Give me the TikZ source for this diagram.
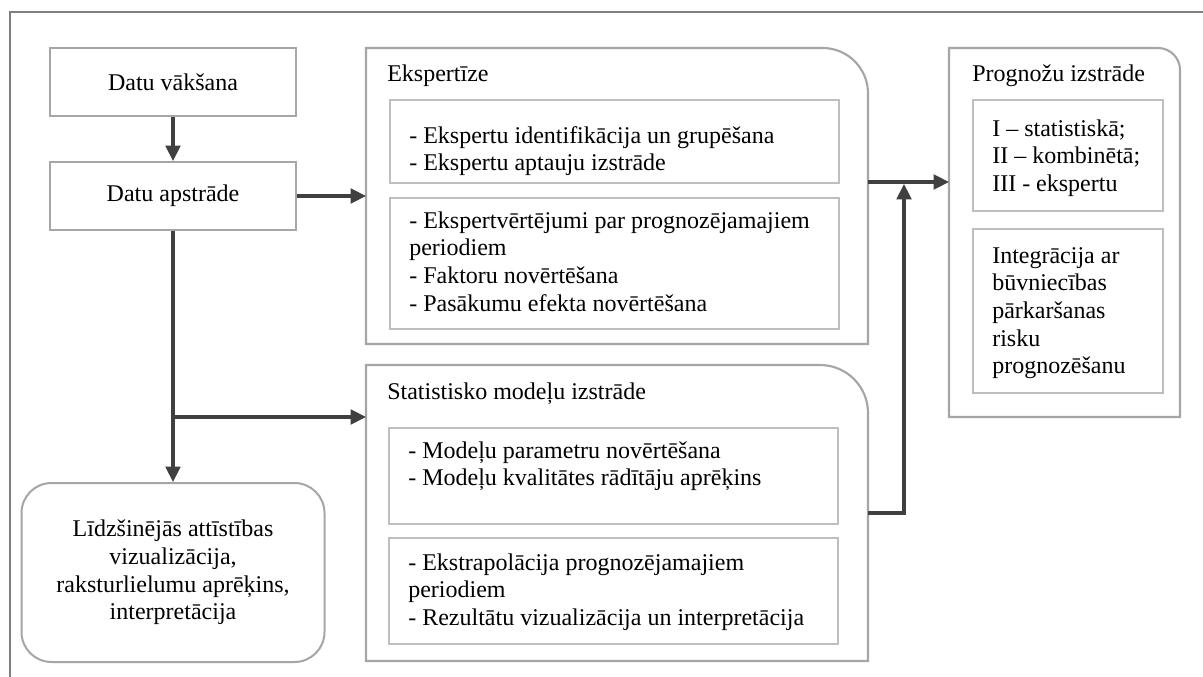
\documentclass[tikz,border=0pt]{standalone}
\usepackage{fontspec}
\setmainfont{Liberation Serif}
\usetikzlibrary{arrows.meta}
\definecolor{framegray}{RGB}{128,128,128}
\definecolor{boxgray}{RGB}{166,166,166}
\definecolor{innergray}{RGB}{190,190,190}
\definecolor{arrowgray}{RGB}{64,64,64}
\newcommand{\fstrut}{\rule{0pt}{14pt}}
\begin{document}
\begin{tikzpicture}[x=0.75pt,y=-0.75pt,
  every node/.style={font=\fontsize{18pt}{20.7pt}\selectfont},
  plainbox/.style={draw=boxgray,line width=1.5pt,rectangle,inner sep=0pt,align=center},
  innerbox/.style={draw=innergray,line width=1.2pt,rectangle,inner sep=0pt,anchor=north west},
  container/.style={draw=boxgray,line width=1.6pt},
  txt/.style={anchor=north west,inner sep=0pt,align=left},
  ttl/.style={anchor=base west,inner sep=0pt},
  conn/.style={draw=arrowgray,line width=2.3pt},
  arr/.style={conn,-{Triangle[length=11.5pt,width=11pt]}}]
\useasboundingbox (0,0) rectangle (1203,677);
\fill[white] (0,0) rectangle (1203,677);
% outer frame
\draw[framegray,line width=1.2pt] (10,677) -- (10,12) -- (1203,12);

% left column
\node[plainbox,minimum width=184.5pt,minimum height=51pt] (vaks) at (173,82) {Datu vākšana};
\node[plainbox,minimum width=184.5pt,minimum height=51pt] (apstr) at (173,196) {Datu apstrāde};
\node[plainbox,minimum width=227.25pt,minimum height=134.25pt,rounded corners=22.5pt] (hist) at (173,572.5)
  {Līdzšinējās attīstības\\vizualizācija,\\raksturlielumu aprēķins,\\interpretācija};

% Ekspertize container
\coordinate (eks-sw) at (366,344);
\coordinate (eks-nw) at (366,48);
\coordinate (eks-ne) at (868,48);
\coordinate (eks-se) at (868,344);
\draw[container] (eks-sw) -- (eks-nw) [rounded corners=34pt] -- (eks-ne) [sharp corners] -- (eks-se) -- cycle;
\node[ttl] (eks-t) at (387,82) {Ekspertīze};
\node[innerbox,minimum width=336.75pt,minimum height=62.25pt] (eks1) at (389,99) {};
\node[txt] (eks1-t) at (409,124.3) {\fstrut- Ekspertu identifikācija un grupēšana\\- Ekspertu aptauju izstrāde};
\node[innerbox,minimum width=336.75pt,minimum height=98.25pt] (eks2) at (389,197) {};
\node[txt] (eks2-t) at (409,209.3) {\fstrut- Ekspertvērtējumi par prognozējamajiem\\periodiem\\- Faktoru novērtēšana\\- Pasākumu efekta novērtēšana};

% Statistisko container
\coordinate (st-sw) at (366,661);
\coordinate (st-nw) at (366,365);
\coordinate (st-ne) at (868,365);
\coordinate (st-se) at (868,661);
\draw[container] (st-sw) -- (st-nw) [rounded corners=36pt] -- (st-ne) [sharp corners] -- (st-se) -- cycle;
\node[ttl] (st-t) at (387,399) {Statistisko modeļu izstrāde};
\node[innerbox,minimum width=336.75pt,minimum height=72pt] (st1) at (388,427) {};
\node[txt] (st1-t) at (408,439.3) {\fstrut- Modeļu parametru novērtēšana\\- Modeļu kvalitātes rādītāju aprēķins};
\node[innerbox,minimum width=336.75pt,minimum height=79.5pt] (st2) at (388,537) {};
\node[txt] (st2-t) at (408,551.3) {\fstrut- Ekstrapolācija prognozējamajiem\\periodiem\\- Rezultātu vizualizācija un interpretācija};

% Prognozu container
\coordinate (pr-sw) at (949,417);
\coordinate (pr-nw) at (949,48);
\coordinate (pr-ne) at (1180,48);
\coordinate (pr-se) at (1180,417);
\draw[container] (pr-sw) -- (pr-nw) [rounded corners=16.5pt] -- (pr-ne) [sharp corners] -- (pr-se) -- cycle;
\node[ttl] (pr-t) at (972,82) {Prognožu izstrāde};
\node[innerbox,minimum width=142.5pt,minimum height=83.25pt] (pr1) at (972,99) {};
\node[txt] (pr1-t) at (992,117.3) {\fstrut I – statistiskā;\\II – kombinētā;\\III - ekspertu};
\node[innerbox,minimum width=142.5pt,minimum height=123pt] (pr2) at (972,228) {};
\node[txt] (pr2-t) at (992,244.3) {\fstrut Integrācija ar\\būvniecības\\pārkaršanas\\risku\\prognozēšanu};

% connectors
\coordinate (eks-w) at (366,196);
\coordinate (branch) at (173,417);
\coordinate (st-w) at (366,417);
\coordinate (eks-e) at (868,182);
\coordinate (pr-w) at (949,182);
\coordinate (st-e) at (868,513);
\coordinate (join-b) at (904,513);
\coordinate (join) at (904,184);
\draw[arr] (vaks.south) -- (apstr.north);
\draw[arr] (apstr.east) -- (eks-w);
\draw[arr] (apstr.south) -- (hist.north);
\draw[arr] (branch) -- (st-w);
\draw[arr] (eks-e) -- (pr-w);
\draw[arr] (st-e) -- (join-b) -- (join);
\end{tikzpicture}
\end{document}
